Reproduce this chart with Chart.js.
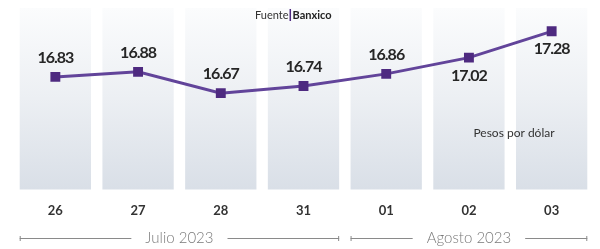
<!DOCTYPE html>
<html>
<head>
<meta charset="utf-8">
<script src="https://cdn.jsdelivr.net/npm/chart.js@4"></script>
<style>
  html, body { margin: 0; padding: 0; background: #fff; }
  #wrap { width: 600px; height: 249px; position: relative; }
</style>
</head>
<body>
<div id="wrap"><canvas id="chart"></canvas></div>
<script>
// Tipo de cambio, pesos por dólar (Banxico)
const days = ['26', '27', '28', '31', '01', '02', '03'];
const rates = [16.83, 16.88, 16.67, 16.74, 16.86, 17.02, 17.28];

// month groups under the day ticks
const monthNames = ['Julio 2023', 'Agosto 2023'];
const monthFirstDay = [0, 4];
const monthLastDay = [3, 6];

const yMin = 15.72;
const yMax = 17.51;
const columnTops = days.map(() => yMax);

const FONT = 'Lato, "Open Sans", sans-serif';
const PURPLE = '#4e2a80';
const LINE_PURPLE = '#62449a';

// labels under the point instead of above
const labelsBelow = [5, 6];

const extrasPlugin = {
    id: 'extras',
    afterDatasetsDraw(chart) {
        const { ctx, scales } = chart;
        const x = scales.x;
        const lineMeta = chart.getDatasetMeta(0);
        const barMeta = chart.getDatasetMeta(1);

        ctx.save();

        // value labels
        ctx.font = `bold 16px ${FONT}`;
        ctx.letterSpacing = '-1px';
        ctx.fillStyle = '#262626';
        ctx.textAlign = 'center';
        ctx.textBaseline = 'middle';
        lineMeta.data.forEach((pt, i) => {
            const dy = labelsBelow.includes(i) ? 18 : -19;
            ctx.fillText(rates[i].toFixed(2), pt.x, pt.y + dy);
        });
        ctx.letterSpacing = '0px';

        // source
        ctx.textAlign = 'left';
        ctx.font = `11px ${FONT}`;
        ctx.fillStyle = '#333';
        let sx = 255;
        ctx.fillText('Fuente', sx, 15);
        sx += ctx.measureText('Fuente').width + 1;
        ctx.fillStyle = PURPLE;
        ctx.fillRect(sx, 9, 1.5, 12);
        sx += 3;
        ctx.font = `bold 11px ${FONT}`;
        ctx.fillStyle = '#222';
        ctx.fillText('Banxico', sx, 15);

        // unit
        ctx.font = `12px ${FONT}`;
        ctx.fillStyle = '#333';
        ctx.textAlign = 'center';
        ctx.fillText('Pesos por dólar', 514, 133);

        // month brackets
        const half = barMeta.data.length ? barMeta.data[0].width / 2 : 36;
        const my = 238;
        ctx.font = `300 15px ${FONT}`;
        ctx.strokeStyle = '#8a8a8a';
        ctx.lineWidth = 1;
        monthNames.forEach((name, m) => {
            const left = x.getPixelForValue(monthFirstDay[m]) - half;
            const right = x.getPixelForValue(monthLastDay[m]) + half;
            const mid = (left + right) / 2;
            const tw = ctx.measureText(name).width;
            ctx.fillStyle = '#7a7a7a';
            ctx.fillText(name, mid, my);
            ctx.beginPath();
            ctx.moveTo(left, my + 0.5);
            ctx.lineTo(mid - tw / 2 - 14, my + 0.5);
            ctx.moveTo(mid + tw / 2 + 14, my + 0.5);
            ctx.lineTo(right, my + 0.5);
            ctx.moveTo(left + 0.5, my - 2);
            ctx.lineTo(left + 0.5, my + 3);
            ctx.moveTo(right - 0.5, my - 2);
            ctx.lineTo(right - 0.5, my + 3);
            ctx.stroke();
        });

        ctx.restore();
    }
};

new Chart(document.getElementById('chart'), {
    type: 'bar',
    data: {
        labels: days,
        datasets: [
            {
                type: 'line',
                data: rates,
                order: 0,
                borderColor: LINE_PURPLE,
                borderWidth: 3,
                pointStyle: 'rect',
                pointRadius: 7,
                pointBackgroundColor: PURPLE,
                pointBorderWidth: 0,
                tension: 0
            },
            {
                type: 'bar',
                data: columnTops,
                order: 1,
                categoryPercentage: 1,
                barPercentage: 0.862,
                backgroundColor: (c) => {
                    const area = c.chart.chartArea;
                    if (!area) return '#e6eaef';
                    const g = c.chart.ctx.createLinearGradient(0, area.top, 0, area.bottom);
                    g.addColorStop(0, '#fbfcfd');
                    g.addColorStop(0.5, '#eceff3');
                    g.addColorStop(1, '#d9dfe7');
                    return g;
                }
            }
        ]
    },
    options: {
        responsive: true,
        maintainAspectRatio: false,
        animation: false,
        layout: { padding: { left: 14, right: 2, top: 8, bottom: 16 } },
        plugins: {
            legend: { display: false },
            tooltip: { enabled: false }
        },
        scales: {
            x: {
                offset: true,
                grid: { display: false, drawTicks: false },
                border: { display: false },
                ticks: {
                    padding: 14,
                    color: '#333',
                    font: { family: FONT, size: 13, weight: 'bold' }
                }
            },
            y: {
                display: false,
                min: yMin,
                max: yMax
            }
        }
    },
    plugins: [extrasPlugin]
});
</script>
</body>
</html>
